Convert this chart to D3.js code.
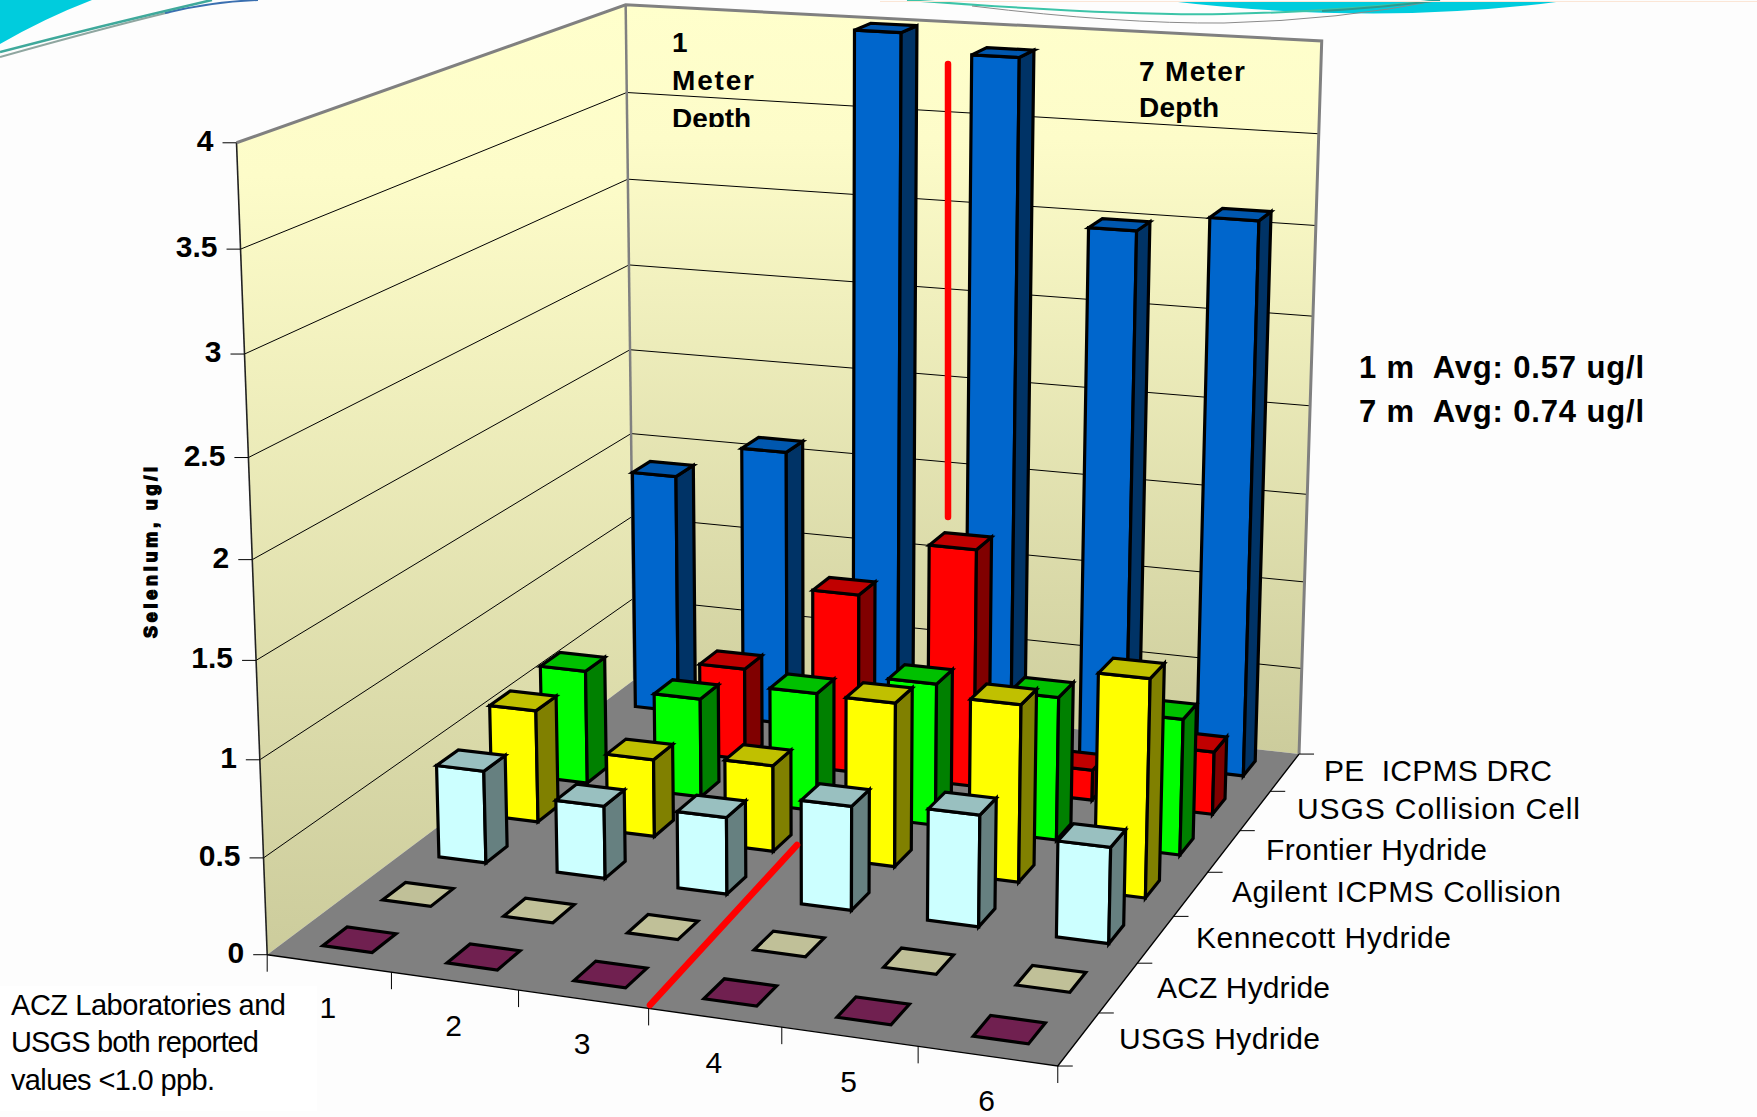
<!DOCTYPE html>
<html>
<head>
<meta charset="utf-8">
<title>Selenium by laboratory and method</title>
<script src="https://cdn.jsdelivr.net/npm/d3@7"></script>
<style>
  html, body { margin: 0; padding: 0; background: #fdfdfd; }
  svg { display: block; }
  text { font-family: "Liberation Sans", Arial, sans-serif; fill: #000; }
</style>
</head>
<body>
<svg id="chart" width="1757" height="1117"></svg>
<script>
// Sample sites along the front axis and analytical methods along the depth axis.
const sites = ["1", "2", "3", "4", "5", "6"];
const methods = ["USGS Hydride", "ACZ Hydride", "Kennecott Hydride", "Agilent ICPMS Collision",
                 "Frontier Hydride", "USGS Collision Cell", "PE  ICPMS DRC"];

// Selenium in ug/l, one list per method, one value per site; null means no result.
const usgsHydride    = [0, 0, 0, 0, 0, 0];
const aczHydride     = [0, 0, 0, 0, 0, 0];
const kennecott      = [0.50, 0.39, 0.41, 0.55, 0.585, 0.50];
const agilent        = [0.62, 0.425, 0.47, 0.885, 0.95, 1.16];
const frontier       = [0.64, 0.555, 0.66, 0.785, 0.785, 0.74];
const usgsCollision  = [null, 0.525, 1.02, 1.34, 0.17, 0.35];
const peDrc          = [1.40, 1.60, 4.00, 3.90, 3.00, 3.10];
const methodValues = [usgsHydride, aczHydride, kennecott, agilent, frontier, usgsCollision, peDrc];

const valueTicks = [0, 0.5, 1, 1.5, 2, 2.5, 3, 3.5, 4];

// Face colours per method: front, top, side.
const frontColors = ["#702050", "#C0C098", "#CCFFFF", "#FFFF00", "#00FF00", "#FF0000", "#0066CC"];
const topColors   = ["#702050", "#C0C098", "#99C0C0", "#C0C000", "#00C000", "#C00000", "#0057AE"];
const sideColors  = ["#702050", "#C0C098", "#668080", "#808000", "#008000", "#800000", "#003366"];

const svg = d3.select("#chart");
const defs = svg.append("defs");

// ---- Perspective camera fitted to the box corners (site, method, value, each 0..1) ----
const cornerAnchors = [
  [[0, 0, 0], [267, 955]],
  [[1, 0, 0], [1057.5, 1066]],
  [[1, 1, 0], [1299, 754]],
  [[0, 1, 0], [634.6, 679.6]],
  [[0, 0, 1], [237, 142.5]],
  [[0, 1, 1], [625, 5]],
  [[1, 1, 1], [1322, 41]]
];

function fitCamera(anchors) {
  const rows = [], rhs = [];
  anchors.forEach(([[X, Y, Z], [x, y]]) => {
    rows.push([X, Y, Z, 1, 0, 0, 0, 0, -x * X, -x * Y, -x * Z]); rhs.push(x);
    rows.push([0, 0, 0, 0, X, Y, Z, 1, -y * X, -y * Y, -y * Z]); rhs.push(y);
  });
  const n = 11;
  const m = d3.range(n).map(i => {
    const row = d3.range(n).map(j => d3.sum(rows, r => r[i] * r[j]));
    row.push(d3.sum(rows, (r, k) => r[i] * rhs[k]));
    return row;
  });
  for (let c = 0; c < n; c++) {
    let pivot = c;
    for (let r = c + 1; r < n; r++) if (Math.abs(m[r][c]) > Math.abs(m[pivot][c])) pivot = r;
    [m[c], m[pivot]] = [m[pivot], m[c]];
    for (let r = 0; r < n; r++) {
      if (r === c) continue;
      const f = m[r][c] / m[c][c];
      for (let k = c; k <= n; k++) m[r][k] -= f * m[c][k];
    }
  }
  return d3.range(n).map(i => m[i][n] / m[i][i]);
}

const cam = fitCamera(cornerAnchors);
const project = (u, v, w) => {
  const d = cam[8] * u + cam[9] * v + cam[10] * w + 1;
  return [(cam[0] * u + cam[1] * v + cam[2] * w + cam[3]) / d,
          (cam[4] * u + cam[5] * v + cam[6] * w + cam[7]) / d];
};

// Band scales use the 150% gap width and gap depth of the bar grid.
const siteScale = d3.scaleBand().domain(sites).range([0, 1]).paddingInner(0.6).paddingOuter(0.3);
const methodScale = d3.scaleBand().domain(methods).range([0, 1]).paddingInner(0.6).paddingOuter(0.3);
const valueScale = d3.scaleLinear().domain([0, 4]).range([0, 1]);

const poly = pts => "M" + pts.map(p => p.join(",")).join("L") + "Z";
const seg = (a, b) => "M" + a.join(",") + "L" + b.join(",");

// ---- Decorative swooshes along the top edge of the slide ----
const swoosh = svg.append("g").attr("fill", "none");
swoosh.append("path").attr("fill", "#00CCDD")
  .attr("d", "M0,0L92,0Q45,18 0,44Z");
swoosh.append("path").attr("fill", "#00CCDD")
  .attr("d", "M1169,1Q1380,26 1564,1Z");
swoosh.append("path").attr("stroke", "#8FA6A0").attr("stroke-width", 2).attr("d", "M0,57Q100,29 170,12");
swoosh.append("path").attr("stroke", "#3A6FB0").attr("stroke-width", 2).attr("d", "M165,13Q210,2 258,0");
swoosh.append("path").attr("stroke", "#3FA99B").attr("stroke-width", 2.5).attr("d", "M0,52Q100,26 212,0");
swoosh.append("path").attr("stroke", "#3CC4A8").attr("stroke-width", 2).attr("d", "M907,0Q1120,16 1224,14Q1330,12 1440,0");
swoosh.append("path").attr("stroke", "#8A8A8A").attr("stroke-width", 1).attr("d", "M972,6Q1120,24 1224,23Q1340,20 1440,0");
swoosh.append("path").attr("stroke", "#2A9A90").attr("stroke-width", 2).attr("d", "M1322,11Q1390,7 1440,0");
swoosh.append("path").attr("stroke", "#FBE6D6").attr("stroke-width", 1).attr("d", "M880,1.5L1757,1.5");

// ---- Walls and floor ----
const wallGradient = id => {
  const g = defs.append("linearGradient").attr("id", id).attr("x1", 0).attr("y1", 0).attr("x2", 0).attr("y2", 1);
  g.append("stop").attr("offset", 0).attr("stop-color", "#FFFFCC");
  g.append("stop").attr("offset", 0.18).attr("stop-color", "#FDFCC9");
  g.append("stop").attr("offset", 1).attr("stop-color", "#CCCC9C");
};
wallGradient("wallLeft");
wallGradient("wallBack");

const [A, B, C, D] = [project(0, 0, 0), project(1, 0, 0), project(1, 1, 0), project(0, 1, 0)];
const [At, Ct, Dt] = [project(0, 0, 1), project(1, 1, 1), project(0, 1, 1)];

const box = svg.append("g");
box.append("path").attr("d", poly([A, D, Dt, At])).attr("fill", "url(#wallLeft)");
box.append("path").attr("d", poly([D, C, Ct, Dt])).attr("fill", "url(#wallBack)");
box.append("path").attr("d", poly([A, B, C, D])).attr("fill", "#808080");

// Value gridlines run along the left wall, then the back wall.
box.selectAll("path.grid").data(valueTicks.slice(1, -1)).join("path").attr("class", "grid")
  .attr("fill", "none").attr("stroke", "#000").attr("stroke-width", 1)
  .attr("d", t => {
    const w = valueScale(t);
    return "M" + [project(0, 0, w), project(0, 1, w), project(1, 1, w)].map(p => p.join(",")).join("L");
  });

// Wall outlines.
box.append("path").attr("d", seg(A, At)).attr("stroke", "#222").attr("stroke-width", 1.6).attr("fill", "none");
box.append("path").attr("d", "M" + [At, Dt, Ct, C].map(p => p.join(",")).join("L"))
  .attr("stroke", "#808080").attr("stroke-width", 3).attr("fill", "none");
box.append("path").attr("d", seg(D, Dt)).attr("stroke", "#808080").attr("stroke-width", 2.5).attr("fill", "none");
box.append("path").attr("d", "M" + [A, B, C].map(p => p.join(",")).join("L"))
  .attr("stroke", "#000").attr("stroke-width", 1.4).attr("fill", "none");

// ---- Axes: ticks and labels placed through the scales and the camera ----
const axes = svg.append("g");

// Value axis on the left wall's front edge.
axes.selectAll("path.vtick").data(valueTicks).join("path").attr("class", "vtick")
  .attr("stroke", "#000").attr("stroke-width", 1)
  .attr("d", t => { const p = project(0, 0, valueScale(t)); return seg([p[0] - 14, p[1]], p); });
axes.selectAll("text.vlabel").data(valueTicks).join("text").attr("class", "vlabel")
  .attr("text-anchor", "end").attr("font-weight", 700).attr("font-size", 30)
  .attr("x", t => project(0, 0, valueScale(t))[0] - 23)
  .attr("y", t => project(0, 0, valueScale(t))[1] + 8)
  .text(t => t);

// Site axis on the front edge of the floor.
const siteEdges = d3.range(sites.length + 1).map(i => i / sites.length);
axes.selectAll("path.stick").data(siteEdges).join("path").attr("class", "stick")
  .attr("stroke", "#000").attr("stroke-width", 1)
  .attr("d", u => { const p = project(u, 0, 0); return seg(p, [p[0], p[1] + 17]); });
axes.selectAll("text.slabel").data(sites).join("text").attr("class", "slabel")
  .attr("text-anchor", "middle").attr("font-size", 30)
  .attr("x", s => project(siteScale(s) + siteScale.bandwidth() / 2, 0, 0)[0] - 1)
  .attr("y", s => project(siteScale(s) + siteScale.bandwidth() / 2, 0, 0)[1] + 55)
  .text(s => s);

// Method axis on the right edge of the floor.
const methodEdges = d3.range(methods.length + 1).map(i => i / methods.length);
axes.selectAll("path.mtick").data(methodEdges).join("path").attr("class", "mtick")
  .attr("stroke", "#000").attr("stroke-width", 1)
  .attr("d", v => { const p = project(1, v, 0); return seg(p, [p[0] + 15, p[1]]); });

const methodLabels = [
  { text: "USGS Hydride", x: 1119, y: 1049, w: 201 },
  { text: "ACZ Hydride", x: 1157, y: 998, w: 173 },
  { text: "Kennecott Hydride", x: 1196, y: 948, w: 255 },
  { text: "Agilent ICPMS Collision", x: 1232, y: 902, w: 329 },
  { text: "Frontier Hydride", x: 1266, y: 860, w: 221 },
  { text: "USGS Collision Cell", x: 1297, y: 819, w: 283 },
  { text: "PE  ICPMS DRC", x: 1324, y: 781, w: 228 }
];
axes.selectAll("text.mlabel").data(methodLabels).join("text").attr("class", "mlabel")
  .attr("xml:space", "preserve").style("white-space", "pre")
  .attr("font-size", 30)
  .attr("x", d => d.x).attr("y", d => d.y)
  .attr("textLength", d => d.w).attr("lengthAdjust", "spacing")
  .text(d => d.text);

// Vertical axis title.
axes.append("text").attr("transform", "translate(157,638) rotate(-90)")
  .attr("font-size", 18).attr("font-weight", 700).attr("stroke", "#000").attr("stroke-width", 1.4)
  .attr("textLength", 171).attr("lengthAdjust", "spacing")
  .text("Selenium, ug/l");

// ---- Bars, drawn back row first and left to right within a row ----
const bars = [];
d3.range(methods.length - 1, -1, -1).forEach(m => {
  sites.forEach((s, i) => {
    if (methodValues[m][i] !== null) bars.push({ m, s, value: methodValues[m][i] });
  });
});

const barGroups = svg.append("g").selectAll("g").data(bars).join("g")
  .attr("stroke", "#000").attr("stroke-width", 3.2).attr("stroke-linejoin", "miter");

barGroups.each(function (d) {
  const g = d3.select(this);
  const u0 = siteScale(d.s), u1 = u0 + siteScale.bandwidth();
  const v0 = methodScale(methods[d.m]), v1 = v0 + methodScale.bandwidth();
  const w = valueScale(d.value);
  if (d.value > 0) {
    g.append("path").attr("fill", frontColors[d.m])
      .attr("d", poly([project(u0, v0, 0), project(u1, v0, 0), project(u1, v0, w), project(u0, v0, w)]));
    g.append("path").attr("fill", sideColors[d.m])
      .attr("d", poly([project(u1, v0, 0), project(u1, v1, 0), project(u1, v1, w), project(u1, v0, w)]));
  }
  g.append("path").attr("fill", topColors[d.m])
    .attr("d", poly([project(u0, v0, w), project(u1, v0, w), project(u1, v1, w), project(u0, v1, w)]));
});

// ---- Red dividers between the two sampling depths ----
const dividers = svg.append("g").attr("stroke", "#FF0000").attr("stroke-width", 6.5).attr("stroke-linecap", "round");
dividers.append("path").attr("d", "M948,64L948,517");
dividers.append("path").attr("d", "M650,1005L797,845");

// ---- Annotations ----
const notes = svg.append("g");

defs.append("clipPath").attr("id", "depthClip").append("rect")
  .attr("x", 660).attr("y", 20).attr("width", 120).attr("height", 107);

const boldNotes = [
  { text: "1", x: 672, y: 52, w: 13, clip: true },
  { text: "Meter", x: 672, y: 90, w: 82, clip: true },
  { text: "Depth", x: 672, y: 128, w: 79, clip: true },
  { text: "7 Meter", x: 1139, y: 81, w: 106 },
  { text: "Depth", x: 1139, y: 117, w: 80 }
];
notes.selectAll("text.bold").data(boldNotes).join("text").attr("class", "bold")
  .attr("font-weight", 700).attr("font-size", 28)
  .attr("x", d => d.x).attr("y", d => d.y)
  .attr("clip-path", d => d.clip ? "url(#depthClip)" : null)
  .attr("textLength", d => d.w).attr("lengthAdjust", "spacing")
  .text(d => d.text);

const averages = [
  { text: "1 m  Avg: 0.57 ug/l", y: 378 },
  { text: "7 m  Avg: 0.74 ug/l", y: 422 }
];
notes.selectAll("text.avg").data(averages).join("text").attr("class", "avg")
  .attr("xml:space", "preserve").style("white-space", "pre")
  .attr("font-weight", 700).attr("font-size", 31)
  .attr("x", 1359).attr("y", d => d.y)
  .attr("textLength", 285).attr("lengthAdjust", "spacing")
  .text(d => d.text);

notes.append("rect").attr("x", 0).attr("y", 986).attr("width", 317).attr("height", 125).attr("fill", "#fff");
const footnote = [
  { text: "ACZ Laboratories and", y: 1015, w: 275 },
  { text: "USGS both reported", y: 1052, w: 248 },
  { text: "values <1.0 ppb.", y: 1090, w: 204 }
];
notes.selectAll("text.foot").data(footnote).join("text").attr("class", "foot")
  .attr("font-size", 29).attr("x", 11).attr("y", d => d.y)
  .attr("textLength", d => d.w).attr("lengthAdjust", "spacing")
  .text(d => d.text);
</script>
</body>
</html>
